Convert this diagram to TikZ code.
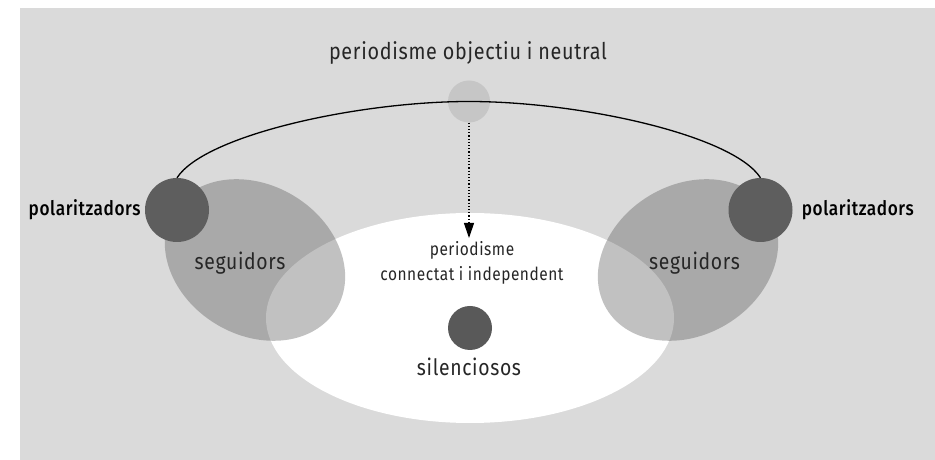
\documentclass[tikz,border=0pt]{standalone}
\usepackage{fontspec}
\setmainfont{Fira Sans}[BoldFont=* Medium, FakeStretch=0.86, LetterSpace=3]
\usetikzlibrary{arrows.meta}
\usetikzlibrary{positioning}
\definecolor{bggray}{HTML}{DADADA}
\definecolor{neutralgray}{HTML}{C6C6C6}
\definecolor{polgray}{HTML}{5E5E5E}
\definecolor{silentgray}{HTML}{595959}
\definecolor{followgray}{HTML}{4C4C4C}

\begin{document}
\begin{tikzpicture}[x=1pt,y=1pt,
  disc/.style={circle,draw=none,inner sep=0pt,minimum size=#1},
  follower/.style={fill=followgray,fill opacity=0.34},
  txt/.style={inner sep=0pt,font=\fontsize{#1}{25}\selectfont,text=black!85},
  boldtxt/.style={inner sep=0pt,font=\fontsize{#1}{25}\selectfont\bfseries,text=black}]
\useasboundingbox (0,0) rectangle (935,460);
\fill[white] (0,0) rectangle (935,460);
\fill[bggray] (20,0) rectangle (935,452);

% white area and the two follower groups
\fill[white] (470,142) ellipse [x radius=204, y radius=105];
\fill[follower,rotate around={-31:(255,200)}] (255,200) ellipse [x radius=95, y radius=75];
\fill[follower,rotate around={31:(688,200)}] (688,200) ellipse [x radius=95, y radius=75];

\node[disc=42,fill=neutralgray] (neutral) at (469,358.5) {};
\node[disc=64,fill=polgray] (polL) at (177,250) {};
\node[disc=64,fill=polgray] (polR) at (760.5,250) {};
\node[disc=44,fill=silentgray] (silent) at (470,132) {};
\coordinate (tip) at (469,222);

\draw[line width=1.3pt] (polL.north) .. controls +(28,43) and +(-110,0) .. (neutral.center)
  .. controls +(110,0) and +(-28,43) .. (polR.north);
\draw[line width=1.2pt,dotted,-{Triangle[width=10pt,length=15pt]}] (neutral.south) -- (tip);

\node[txt=23] (title) at (468,407) {periodisme objectiu i neutral};
\node[boldtxt=20,left=4pt of polL] (polLtxt) {polaritzadors};
\node[boldtxt=20,right=9pt of polR] (polRtxt) {polaritzadors};
\node[txt=22.5] (folL) at (240,197) {seguidors};
\node[txt=22.5] (folR) at (694.5,197) {seguidors};
\node[txt=18,align=center] (indep) at (472,197) {periodisme\\connectat i independent};
\node[txt=22.5] (silenttxt) at (469,93) {silenciosos};
\end{tikzpicture}
\end{document}
